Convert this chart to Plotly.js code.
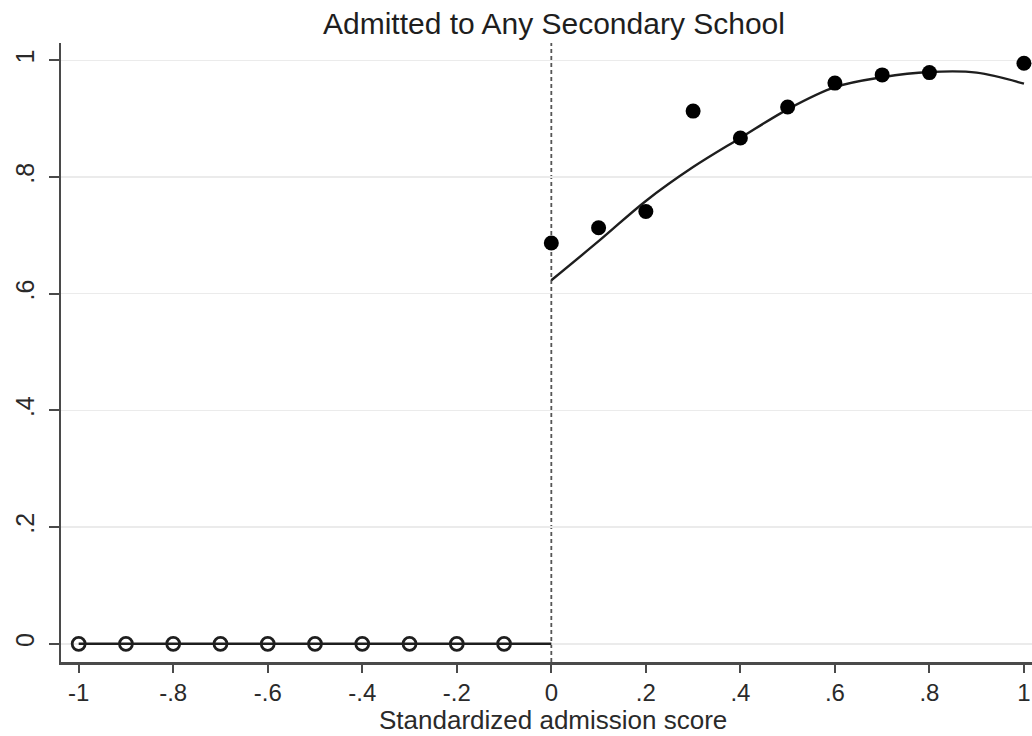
<!DOCTYPE html>
<html>
<head>
<meta charset="utf-8">
<script src="https://cdn.plot.ly/plotly-3.0.1.min.js"></script>
<style>
  html, body { margin: 0; padding: 0; background: #ffffff; }
  #chart { width: 1032px; height: 736px; }
</style>
</head>
<body>
<div id="chart"></div>
<script>
// Bin means below the admission cutoff (all zero)
const belowX = [-1, -0.9, -0.8, -0.7, -0.6, -0.5, -0.4, -0.3, -0.2, -0.1];
const belowY = [0, 0, 0, 0, 0, 0, 0, 0, 0, 0];

// Bin means at or above the cutoff
const aboveX = [0, 0.1, 0.2, 0.3, 0.4, 0.5, 0.6, 0.7, 0.8, 1.0];
const aboveY = [0.687, 0.713, 0.741, 0.913, 0.867, 0.920, 0.961, 0.975, 0.979, 0.995];

// Fitted curve on each side of the cutoff
const fitBelowX = [-1, 0];
const fitBelowY = [0, 0];
const fitAboveX = [0, 0.1, 0.2, 0.3, 0.4, 0.5, 0.6, 0.7, 0.8, 0.9, 1.0];
const fitAboveY = [0.623, 0.690, 0.759, 0.817, 0.867, 0.916, 0.954, 0.971, 0.980, 0.979, 0.960];

// Axis ticks
const xTickVals = [-1, -0.8, -0.6, -0.4, -0.2, 0, 0.2, 0.4, 0.6, 0.8, 1];
const xTickText = ['-1', '-.8', '-.6', '-.4', '-.2', '0', '.2', '.4', '.6', '.8', '1'];
const yTickVals = [0, 0.2, 0.4, 0.6, 0.8, 1];
const yTickText = ['0', '.2', '.4', '.6', '.8', '1'];

const FONT = 'Liberation Sans, Arial, sans-serif';
const INK = '#1e1e1e';
const AXIS = '#4a4a4a';

const traces = [
  {
    x: fitBelowX, y: fitBelowY, type: 'scatter', mode: 'lines',
    line: { color: INK, width: 2.6 }, hoverinfo: 'skip'
  },
  {
    x: fitAboveX, y: fitAboveY, type: 'scatter', mode: 'lines',
    line: { color: INK, width: 2.4, shape: 'spline', smoothing: 1 }, hoverinfo: 'skip'
  },
  {
    x: belowX, y: belowY, type: 'scatter', mode: 'markers',
    marker: { symbol: 'circle-open', size: 13, color: INK, line: { color: INK, width: 2.8 } }
  },
  {
    x: aboveX, y: aboveY, type: 'scatter', mode: 'markers',
    marker: { symbol: 'circle', size: 15, color: '#000000' }
  }
];

const layout = {
  width: 1032,
  height: 736,
  margin: { l: 61, r: 0, t: 43, b: 74, pad: 0 },
  paper_bgcolor: '#ffffff',
  plot_bgcolor: '#ffffff',
  showlegend: false,
  font: { family: FONT, color: INK },
  title: {
    text: 'Admitted to Any Secondary School',
    font: { family: FONT, size: 30, color: INK },
    x: 554 / 1032, xanchor: 'center', xref: 'container',
    y: 1 - 23 / 736, yanchor: 'middle', yref: 'container'
  },
  xaxis: {
    range: [-1.0374, 1.017],
    tickmode: 'array', tickvals: xTickVals, ticktext: xTickText,
    ticks: 'outside', ticklen: 8, tickwidth: 2, tickcolor: AXIS,
    tickfont: { family: FONT, size: 24, color: '#2a2a2a' },
    showline: true, linecolor: AXIS, linewidth: 2.5,
    showgrid: false, zeroline: false
  },
  yaxis: {
    range: [-0.0312, 1.0297],
    tickmode: 'array', tickvals: yTickVals, ticktext: yTickText,
    tickangle: -90,
    ticks: 'outside', ticklen: 10, tickwidth: 2, tickcolor: AXIS,
    ticklabelstandoff: 5,
    tickfont: { family: FONT, size: 25, color: '#2a2a2a' },
    showline: true, linecolor: AXIS, linewidth: 2.5,
    showgrid: true, gridcolor: '#ebebeb', gridwidth: 1.5,
    zeroline: false
  },
  annotations: [
    {
      text: 'Standardized admission score',
      xref: 'paper', yref: 'paper',
      x: (553 - 61) / 971, xanchor: 'center',
      y: -(736 - 662) / 619, yanchor: 'bottom',
      showarrow: false, borderpad: 0,
      font: { family: FONT, size: 26, color: '#2a2a2a' }
    }
  ],
  shapes: [
    {
      type: 'line', xref: 'x', yref: 'paper',
      x0: 0, x1: 0, y0: 0, y1: 1,
      line: { color: '#555555', width: 1.8, dash: '4px,3px' },
      layer: 'below'
    }
  ]
};

Plotly.newPlot('chart', traces, layout, { displayModeBar: false, staticPlot: true });
</script>
</body>
</html>
